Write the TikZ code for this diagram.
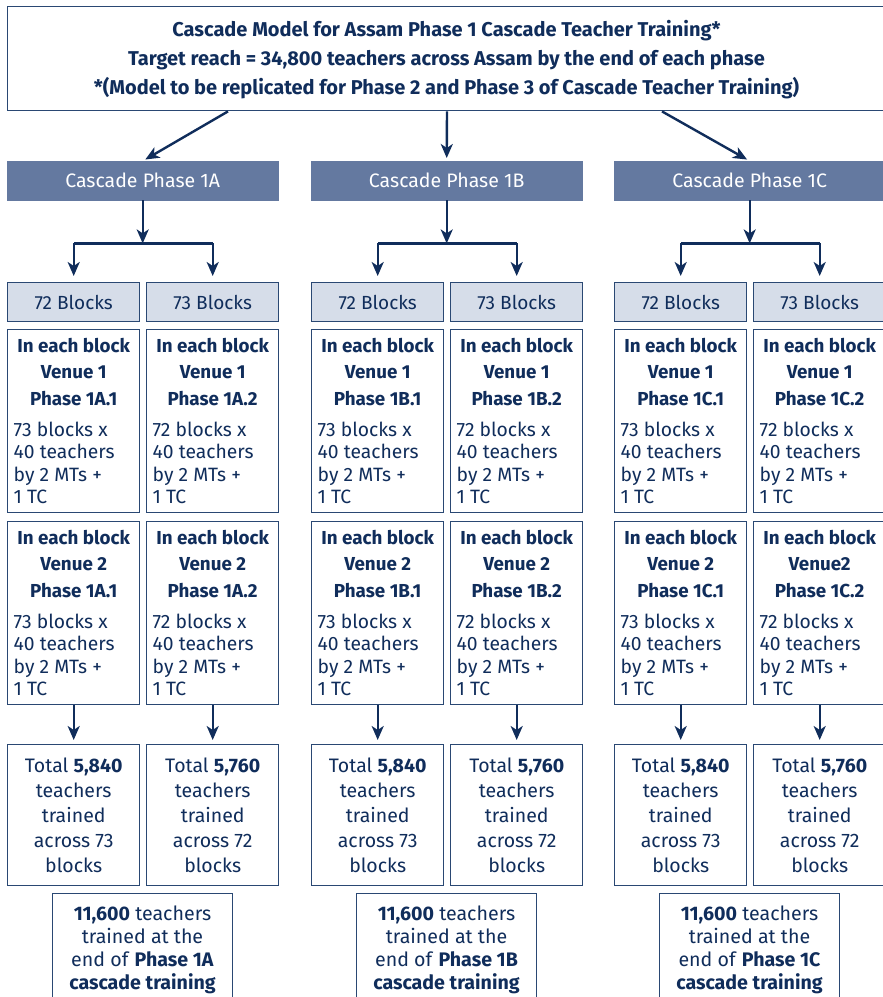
\documentclass[tikz,border=0pt]{standalone}
\usepackage{fontspec}
\setmainfont{Fira Sans}
\usetikzlibrary{arrows.meta,calc}
\definecolor{navy}{HTML}{102D5B}
\definecolor{bord}{HTML}{2A4873}
\definecolor{hdrfill}{HTML}{6479A0}
\definecolor{lite}{HTML}{D6DDE9}
\newcommand\venuetxt[3]{\parbox{120pt}{%
  {\centering\bfseries\fontsize{18.8}{26.5}\selectfont In each block\\#1\\#2\par}%
  \vspace{8.5pt}%
  {\raggedright\fontsize{19.3}{22.5}\selectfont #3 blocks x\\40 teachers\\by 2 MTs +\\1 TC\par}}}
\newcommand\totaltxt[2]{\parbox{126pt}{\centering\fontsize{19.5}{25.2}\selectfont
  Total \textbf{#1}\\teachers\\trained\\across #2\\blocks\par}}
\newcommand\sumtxt[1]{\parbox{176pt}{\centering\fontsize{19.6}{23}\selectfont
  \rule{0pt}{27pt}\textbf{11,600} teachers\\trained at the\\end of \textbf{Phase #1}\\\textbf{cascade training}\rule[-40pt]{0pt}{40pt}\par}}
\begin{document}
\begin{tikzpicture}[x=1pt,y=-1pt,
  every node/.style={text=navy},
  box/.style={draw=bord, line width=1.4pt, anchor=north west, minimum width=132pt, inner sep=0pt, fill=white},
  blk/.style={box, fill=lite, minimum height=39pt, font=\fontsize{19}{20}\selectfont},
  hdr/.style={fill=hdrfill, draw=hdrfill, anchor=north west, minimum width=271pt, minimum height=39pt, inner sep=0pt, text=white, font=\fontsize{19.5}{20}\selectfont},
  arr/.style={draw=navy, line width=2.4pt, -{Stealth[length=14pt,width=12pt,inset=4pt]}},
  bracket/.style={draw=navy, line width=2.4pt}
]
\useasboundingbox (0,0) rectangle (883,997);
\clip (0,0) rectangle (883,997);
% top box
\node[draw=bord, line width=1.4pt, minimum width=900pt, minimum height=104pt, anchor=north west, inner sep=0pt] (top) at (7,6) {};
\node (title) at (446.5,60) {\parbox{860pt}{\centering\bfseries\fontsize{20}{29}\selectfont
  Cascade Model for Assam Phase 1 Cascade Teacher Training*\\
  Target reach = 34,800 teachers across Assam by the end of each phase\\ {}*(Model to be replicated for Phase 2 and Phase 3 of Cascade Teacher Training)\par}};
\foreach \p/\x/\va/\vb in {A/7/Venue 2/Venue 2, B/311/Venue 2/Venue 2, C/614/Venue 2/Venue2} {
  \node[hdr] (h\p) at (\x,161) {Cascade Phase 1\p};
  \node[blk] (\p1b) at (\x,282) {72 Blocks};
  \node[blk] (\p2b) at ({\x+139},282) {73 Blocks};
  \node[box, minimum height=183pt] (\p1v1) at (\x,329) {\venuetxt{Venue 1}{Phase 1\p.1}{73}};
  \node[box, minimum height=183pt] (\p2v1) at ({\x+139},329) {\venuetxt{Venue 1}{Phase 1\p.2}{72}};
  \node[box, minimum height=183pt] (\p1v2) at (\x,521) {\venuetxt{\va}{Phase 1\p.1}{73}};
  \node[box, minimum height=183pt] (\p2v2) at ({\x+139},521) {\venuetxt{\vb}{Phase 1\p.2}{72}};
  \node[box, minimum height=141pt] (\p1t) at (\x,744) {\totaltxt{5,840}{73}};
  \node[box, minimum height=141pt] (\p2t) at ({\x+139},744) {\totaltxt{5,760}{72}};
  \node[box, anchor=north, minimum width=180pt] (\p s) at ({\x+135.5},893) {\sumtxt{1\p}};
  \coordinate (j\p) at ($(h\p.south)+(0,43)$);
  \draw[arr] (h\p.south) -- (j\p);
  \draw[bracket] (j\p) -- (j\p -| \p1b.north);
  \draw[bracket] (j\p) -- (j\p -| \p2b.north);
  \draw[arr, shorten >=6pt] (j\p -| \p1b.north) -- (\p1b.north);
  \draw[arr, shorten >=6pt] (j\p -| \p2b.north) -- (\p2b.north);
  \draw[arr, shorten >=4pt] (\p1v2.south) -- (\p1t.north);
  \draw[arr, shorten >=4pt] (\p2v2.south) -- (\p2t.north);
}
\draw[arr, shorten >=3pt] ($(top.south west)+(221,0)$) -- (hA.north);
\draw[arr, shorten >=3pt] ($(top.south west)+(440,0)$) -- (hB.north);
\draw[arr, shorten >=3pt] ($(top.south west)+(655,0)$) -- (hC.north);
\end{tikzpicture}
\end{document}
